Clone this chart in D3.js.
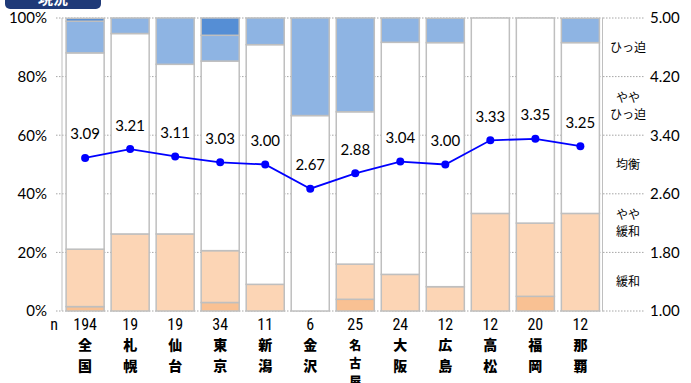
<!DOCTYPE html>
<html><head><meta charset="utf-8">
<script src="https://cdn.jsdelivr.net/npm/d3@7"></script>
<style>
html,body{margin:0;padding:0;background:#fff;}
svg{display:block;}
</style></head>
<body>
<svg id="chart" width="691" height="383"></svg>
<script>
// ---- data ----
const cities = [["全","国"],["札","幌"],["仙","台"],["東","京"],["新","潟"],["金","沢"],["名","古","屋"],["大","阪"],["広","島"],["高","松"],["福","岡"],["那","覇"]];
const nCounts = [194,19,19,34,11,6,25,24,12,12,20,12];
// share (%) of each answer, bottom to top
const kanwa      = [1.5, 0, 0, 2.9, 0, 0, 4.0, 0, 0, 0, 5.0, 0];
const yayaKanwa  = [19.6, 26.3, 26.3, 17.7, 9.1, 0, 12.0, 12.5, 8.3, 33.3, 25.0, 33.3];
const kinkou     = [67.0, 68.4, 57.9, 64.7, 81.8, 66.7, 52.0, 79.2, 83.3, 66.7, 70.0, 58.3];
const yayaHippaku= [10.8, 5.3, 15.8, 8.8, 9.1, 33.3, 32.0, 8.3, 8.3, 0, 0, 8.3];
const hippaku    = [1.0, 0, 0, 5.9, 0, 0, 0, 0, 0, 0, 0, 0];
const diIndex    = [3.09, 3.21, 3.11, 3.03, 3.00, 2.67, 2.88, 3.04, 3.00, 3.33, 3.35, 3.25];
const leftTicks  = [0, 20, 40, 60, 80, 100];
const rightTicks = [1.00, 1.80, 2.60, 3.40, 4.20, 5.00];
const bandLabels = [["緩和"],["やや","緩和"],["均衡"],["やや","ひっ迫"],["ひっ迫"]];
const seriesNames = ["緩和","やや緩和","均衡","ややひっ迫","ひっ迫"];
const seriesColors = ["#F9C193","#FCD5B5","#FFFFFF","#8EB4E3","#558ED5"];

// ---- layout ----
const svg = d3.select("#chart");
const X0 = 62.5, X1 = 603, Y0 = 311, Y1 = 18;
const x = d3.scaleBand().domain(d3.range(cities.length)).range([X0, X1]).paddingInner(0.155).paddingOuter(0.08);
const y = d3.scaleLinear().domain([0, 100]).range([Y0, Y1]);
const yr = d3.scaleLinear().domain([1, 5]).range([Y0, Y1]);

// title tab
svg.append("rect").attr("x", 5).attr("y", -12).attr("width", 96).attr("height", 21).attr("rx", 5).attr("fill", "#1F3A78");
svg.append("text").attr("x", 53).attr("y", 4).attr("text-anchor", "middle").attr("fill", "#fff")
  .attr("font-family", "Noto Sans CJK JP").attr("font-weight", "bold").attr("font-size", 15).text("現況");

// gridlines (dotted)
const grid = svg.append("g");
leftTicks.forEach(t => {
  grid.append("line").attr("x1", 56).attr("x2", X1).attr("y1", y(t)).attr("y2", y(t))
    .attr("stroke", "#A6A6A6").attr("stroke-width", 1).attr("stroke-dasharray", "1.5,1.5");
});
// right-hand dotted guide lines
rightTicks.forEach(t => {
  grid.append("line").attr("x1", X1).attr("x2", 645).attr("y1", yr(t)).attr("y2", yr(t))
    .attr("stroke", "#A6A6A6").attr("stroke-width", 1).attr("stroke-dasharray", "1.5,1.5");
});

// stacked bars
const series = [kanwa, yayaKanwa, kinkou, yayaHippaku, hippaku];
const rows = cities.map((c, i) => {
  const o = {i};
  seriesNames.forEach((s, k) => o[s] = series[k][i]);
  return o;
});
const stack = d3.stack().keys(seriesNames)(rows);
const bars = svg.append("g");
stack.forEach((layer, k) => {
  bars.selectAll(null).data(layer.filter(d => d[1] - d[0] > 0)).enter().append("rect")
    .attr("x", d => x(d.data.i))
    .attr("width", x.bandwidth())
    .attr("y", d => y(d[1]))
    .attr("height", d => y(d[0]) - y(d[1]))
    .attr("fill", seriesColors[k])
    .attr("stroke", "#BFBFBF").attr("stroke-width", 1.5);
});

// axes lines
svg.append("line").attr("x1", X0 - 0.5).attr("x2", X0 - 0.5).attr("y1", Y1).attr("y2", Y0).attr("stroke", "#BFBFBF").attr("stroke-width", 1);
svg.append("line").attr("x1", X1 - 0.5).attr("x2", X1 - 0.5).attr("y1", Y1).attr("y2", Y0).attr("stroke", "#BFBFBF").attr("stroke-width", 1);

// left axis labels
const numFont = "Lato, 'Open Sans', sans-serif";
svg.append("g").selectAll("text").data(leftTicks).enter().append("text")
  .attr("x", 47).attr("y", d => y(d)).attr("dy", "0.36em").attr("text-anchor", "end")
  .attr("font-family", numFont).attr("font-size", 15).attr("fill", "#000").text(d => d + "%");

// right axis labels
svg.append("g").selectAll("text").data(rightTicks).enter().append("text")
  .attr("x", 650).attr("y", d => yr(d)).attr("dy", "0.36em").attr("text-anchor", "start")
  .attr("font-family", numFont).attr("font-size", 15).attr("fill", "#000").text(d => d.toFixed(2));

// band labels on the right
bandLabels.forEach((lines, k) => {
  const mid = (yr(rightTicks[k]) + yr(rightTicks[k + 1])) / 2;
  const lh = 17;
  lines.forEach((ln, j) => {
    svg.append("text").attr("x", 628).attr("y", mid + (j - (lines.length - 1) / 2) * lh).attr("dy", "0.36em")
      .attr("text-anchor", "middle").attr("font-family", "Noto Sans CJK JP").attr("font-size", 12).attr("fill", "#000").text(ln);
  });
});

// line
const cx = i => x(i) + x.bandwidth() / 2;
svg.append("path").datum(diIndex)
  .attr("d", d3.line().x((d, i) => cx(i)).y(d => yr(d)))
  .attr("fill", "none").attr("stroke", "#0000FF").attr("stroke-width", 1.8);
svg.append("g").selectAll("circle").data(diIndex).enter().append("circle")
  .attr("cx", (d, i) => cx(i)).attr("cy", d => yr(d)).attr("r", 4).attr("fill", "#0000FF");
svg.append("g").selectAll("text").data(diIndex).enter().append("text")
  .attr("x", (d, i) => cx(i)).attr("y", d => yr(d) - 24).attr("dy", "0.36em").attr("text-anchor", "middle")
  .attr("font-family", numFont).attr("font-size", 15).attr("fill", "#000").text(d => d.toFixed(2));

// x labels: n
const nFont = "'Liberation Sans Narrow', 'Roboto Condensed', 'Liberation Sans', sans-serif";
svg.append("text").attr("x", 54).attr("y", 324).attr("dy", "0.36em").attr("text-anchor", "middle")
  .attr("font-family", nFont).attr("font-size", 16).text("n");
svg.append("g").selectAll("text").data(nCounts).enter().append("text")
  .attr("x", (d, i) => cx(i)).attr("y", 324).attr("dy", "0.36em").attr("text-anchor", "middle")
  .attr("font-family", nFont).attr("font-size", 16).text(d => d);

// x labels: city names (vertical)
cities.forEach((chars, i) => {
  const three = chars.length > 2;
  chars.forEach((ch, j) => {
    svg.append("text").attr("x", cx(i))
      .attr("y", three ? 346 + j * 18 : 345 + j * 21)
      .attr("dy", "0.36em").attr("text-anchor", "middle")
      .attr("font-family", "Noto Sans CJK JP").attr("font-weight", "900")
      .attr("font-size", three ? 12 : 14).text(ch);
  });
});
</script>
</body></html>
